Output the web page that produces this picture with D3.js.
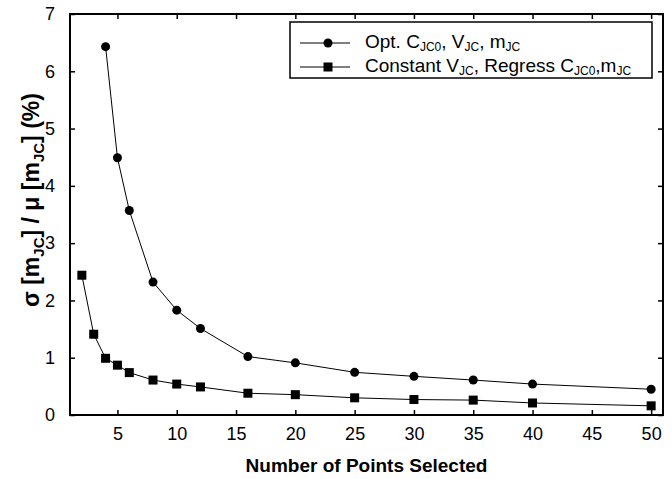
<!DOCTYPE html>
<html>
<head>
<meta charset="utf-8">
<script src="https://cdn.jsdelivr.net/npm/d3@7"></script>
<style>
  body { margin: 0; background: #fff; }
  svg text { font-family: "Liberation Sans", Arial, sans-serif; fill: #000; }
</style>
</head>
<body>
<div id="chart"></div>
<script>
// data
const optX = [4, 5, 6, 8, 10, 12, 16, 20, 25, 30, 35, 40, 50];
const optY = [6.43, 4.49, 3.57, 2.32, 1.83, 1.51, 1.02, 0.91, 0.745, 0.675, 0.61, 0.54, 0.45];
const constX = [2, 3, 4, 5, 6, 8, 10, 12, 16, 20, 25, 30, 35, 40, 50];
const constY = [2.44, 1.41, 0.99, 0.87, 0.74, 0.61, 0.54, 0.49, 0.38, 0.355, 0.30, 0.27, 0.26, 0.21, 0.16];
const xTicks = [5, 10, 15, 20, 25, 30, 35, 40, 45, 50];
const yTicks = [0, 1, 2, 3, 4, 5, 6, 7];

const W = 672, H = 479;
const margin = { top: 14, right: 9, bottom: 64, left: 70 },
      width = W - margin.left - margin.right,
      height = H - margin.top - margin.bottom;

const svg = d3.select("#chart").append("svg")
  .attr("width", W)
  .attr("height", H)
  .append("g")
  .attr("transform", `translate(${margin.left},${margin.top})`);

const x = d3.scaleLinear().domain([1, 51]).range([0, width]);
const y = d3.scaleLinear().domain([0, 7]).range([height, 0]);

const tk = 5;
// bottom axis, ticks pointing in
const gx = svg.append("g")
  .attr("transform", `translate(0,${height})`)
  .call(d3.axisBottom(x).tickValues(xTicks).tickSize(-tk).tickPadding(12).tickFormat(d3.format("d")));
// top
const gxt = svg.append("g")
  .call(d3.axisTop(x).tickValues(xTicks).tickSize(-tk).tickFormat(""));
// left
const gy = svg.append("g")
  .call(d3.axisLeft(y).tickValues(yTicks).tickSize(-tk).tickPadding(15).tickFormat(d3.format("d")));
// right
const gyr = svg.append("g")
  .attr("transform", `translate(${width},0)`)
  .call(d3.axisRight(y).tickValues(yTicks).tickSize(-tk).tickFormat(""));

[gx, gxt, gy, gyr].forEach(g => {
  g.select(".domain").remove();
  g.selectAll("line").attr("stroke", "#000").attr("stroke-width", 1.5);
  g.selectAll("text").style("font-size", "18px").attr("fill", "#000");
});

svg.append("rect")
  .attr("width", width).attr("height", height)
  .attr("fill", "none").attr("stroke", "#000").attr("stroke-width", 2);

const line = d3.line().x(d => x(d[0])).y(d => y(d[1]));
const optData = optX.map((v, i) => [v, optY[i]]);
const constData = constX.map((v, i) => [v, constY[i]]);

[optData, constData].forEach(data => {
  svg.append("path").datum(data)
    .attr("d", line)
    .attr("fill", "none")
    .attr("stroke", "#000")
    .attr("stroke-width", 1);
});

svg.selectAll("circle.opt")
  .data(optData)
  .enter().append("circle")
  .attr("class", "opt")
  .attr("cx", d => x(d[0]))
  .attr("cy", d => y(d[1]))
  .attr("r", 4.5)
  .attr("fill", "#000");

const sq = 9;
svg.selectAll("rect.const")
  .data(constData)
  .enter().append("rect")
  .attr("class", "const")
  .attr("x", d => x(d[0]) - sq / 2)
  .attr("y", d => y(d[1]) - sq / 2)
  .attr("width", sq)
  .attr("height", sq)
  .attr("fill", "#000");

// Legend
const lg = svg.append("g").attr("transform", `translate(${290 - margin.left},${22 - margin.top})`);
lg.append("rect")
  .attr("width", 362).attr("height", 56)
  .attr("fill", "#fff").attr("stroke", "#000").attr("stroke-width", 1.5);

function sub(t, parts) {
  parts.forEach(p => {
    if (p.s) {
      t.append("tspan").attr("baseline-shift", "-25%").style("font-size", "12px").text(p.s);
    } else {
      t.append("tspan").text(p.t);
    }
  });
}

const ly = [21, 45];
ly.forEach((yy, i) => {
  lg.append("line").attr("x1", 10).attr("x2", 60).attr("y1", yy).attr("y2", yy)
    .attr("stroke", "#000").attr("stroke-width", 1);
  if (i === 0) {
    lg.append("circle").attr("cx", 38).attr("cy", yy).attr("r", 4.5).attr("fill", "#000");
  } else {
    lg.append("rect").attr("x", 38 - sq / 2).attr("y", yy - sq / 2)
      .attr("width", sq).attr("height", sq).attr("fill", "#000");
  }
});

const t1 = lg.append("text").attr("x", 75).attr("y", ly[0] + 5).style("font-size", "19px");
sub(t1, [{ t: "Opt. C" }, { s: "JC0" }, { t: ", V" }, { s: "JC" }, { t: ", m" }, { s: "JC" }]);
const t2 = lg.append("text").attr("x", 75).attr("y", ly[1] + 5).style("font-size", "19px");
sub(t2, [{ t: "Constant V" }, { s: "JC" }, { t: ", Regress C" }, { s: "JC0" }, { t: ",m" }, { s: "JC" }]);

// Label X
svg.append("text")
  .attr("x", width / 2)
  .attr("y", height + 57)
  .attr("text-anchor", "middle")
  .style("font-size", "19px")
  .style("font-weight", "bold")
  .text("Number of Points Selected");

// Label Y
const yl = svg.append("text")
  .attr("transform", `translate(-31,186) rotate(-90)`)
  .attr("text-anchor", "middle")
  .style("font-size", "23px")
  .style("font-weight", "bold");
yl.append("tspan").text("σ [m");
yl.append("tspan").attr("baseline-shift", "-30%").style("font-size", "15px").text("JC");
yl.append("tspan").text("] / μ [m");
yl.append("tspan").attr("baseline-shift", "-30%").style("font-size", "15px").text("JC");
yl.append("tspan").text("] (%)");
</script>
</body>
</html>
